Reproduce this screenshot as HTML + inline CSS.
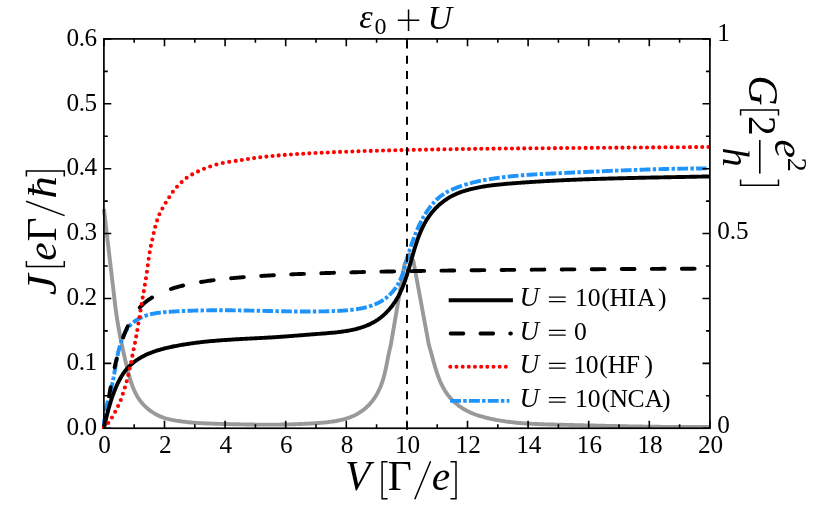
<!DOCTYPE html>
<html><head><meta charset="utf-8"><title>chart</title>
<style>html,body{margin:0;padding:0;background:#fff}body{width:830px;height:511px;overflow:hidden;font-family:"Liberation Serif",serif}svg{display:block;will-change:transform}</style>
</head><body>
<svg width="830" height="511" viewBox="0 0 830 511">
<rect width="830" height="511" fill="#fff"/>
<defs><clipPath id="c"><rect x="101.40" y="36.90" width="611.00" height="391.95"/></clipPath></defs>
<g fill="none" clip-path="url(#c)">
<path d="M103.90,209.10 L114.00,295.00 L114.15,296.47 L114.31,297.92 L114.48,299.37 L114.64,300.81 L114.81,302.24 L114.98,303.67 L115.16,305.09 L115.34,306.50 L115.52,307.90 L115.71,309.30 L115.90,310.69 L116.09,312.08 L116.29,313.46 L116.49,314.84 L116.69,316.21 L116.90,317.57 L117.11,318.93 L117.32,320.29 L117.54,321.64 L117.76,322.99 L117.98,324.33 L118.21,325.67 L118.44,327.01 L118.67,328.35 L118.91,329.68 L119.15,331.01 L119.40,332.34 L119.65,333.66 L119.90,334.99 L120.15,336.31 L120.41,337.64 L120.67,338.96 L120.93,340.28 L121.20,341.60 L121.47,342.92 L121.75,344.24 L122.03,345.57 L122.31,346.89 L122.59,348.21 L122.88,349.54 L123.17,350.87 L123.47,352.20 L123.76,353.53 L124.07,354.86 L124.37,356.20 L124.68,357.53 L124.99,358.88 L125.30,360.22 L125.62,361.57 L125.94,362.92 L126.27,364.28 L126.59,365.64 L126.92,367.01 L127.26,368.38 L127.60,369.75 L127.94,371.13 L128.30,372.51 L128.66,373.88 L129.03,375.26 L129.41,376.63 L129.81,378.00 L130.22,379.37 L130.64,380.73 L131.08,382.09 L131.53,383.44 L132.00,384.78 L132.49,386.11 L133.00,387.43 L133.54,388.73 L134.09,390.03 L134.67,391.31 L135.27,392.58 L135.90,393.82 L136.56,395.05 L137.24,396.26 L137.95,397.44 L138.70,398.60 L139.47,399.73 L140.28,400.84 L141.11,401.92 L141.98,402.97 L142.87,404.00 L143.79,405.00 L144.73,405.97 L145.70,406.91 L146.70,407.82 L147.72,408.70 L148.76,409.56 L149.83,410.38 L150.92,411.18 L152.02,411.94 L153.15,412.68 L154.30,413.38 L155.47,414.05 L156.65,414.69 L157.85,415.30 L159.07,415.87 L160.31,416.42 L161.55,416.93 L162.82,417.41 L164.09,417.85 L165.38,418.26 L166.68,418.64 L167.99,418.99 L169.31,419.32 L170.64,419.62 L171.98,419.90 L173.32,420.16 L174.68,420.41 L176.04,420.63 L177.40,420.85 L178.77,421.05 L180.14,421.25 L181.52,421.43 L182.90,421.61 L184.29,421.78 L185.67,421.93 L187.07,422.08 L188.46,422.22 L189.86,422.36 L191.26,422.48 L192.66,422.60 L194.06,422.71 L195.47,422.82 L196.88,422.91 L198.29,423.01 L199.70,423.09 L201.11,423.17 L202.53,423.25 L203.94,423.32 L205.35,423.39 L206.77,423.45 L208.18,423.51 L209.60,423.56 L211.01,423.61 L212.42,423.66 L213.84,423.71 L215.25,423.75 L216.66,423.79 L218.07,423.83 L219.48,423.87 L220.88,423.90 L222.28,423.94 L223.69,423.97 L225.08,424.00 L226.48,424.04 L227.87,424.07 L229.26,424.10 L230.65,424.14 L232.04,424.17 L233.43,424.20 L234.81,424.23 L236.19,424.26 L237.57,424.29 L238.95,424.32 L240.32,424.35 L241.70,424.37 L243.07,424.40 L244.44,424.42 L245.81,424.45 L247.18,424.47 L248.55,424.49 L249.92,424.51 L251.28,424.53 L252.65,424.55 L254.01,424.57 L255.38,424.58 L256.74,424.60 L258.10,424.61 L259.46,424.62 L260.83,424.63 L262.19,424.64 L263.55,424.65 L264.91,424.65 L266.27,424.65 L267.63,424.66 L269.00,424.65 L270.36,424.65 L271.72,424.65 L273.08,424.64 L274.45,424.63 L275.81,424.62 L277.18,424.61 L278.54,424.59 L279.91,424.58 L281.28,424.56 L282.64,424.53 L284.01,424.51 L285.38,424.48 L286.76,424.45 L288.13,424.42 L289.50,424.39 L290.88,424.35 L292.26,424.31 L293.64,424.27 L295.02,424.22 L296.40,424.17 L297.79,424.12 L299.18,424.07 L300.57,424.01 L301.96,423.95 L303.36,423.89 L304.75,423.82 L306.15,423.75 L307.55,423.68 L308.96,423.60 L310.37,423.52 L311.78,423.44 L313.19,423.35 L314.61,423.26 L316.03,423.17 L317.45,423.07 L318.87,422.97 L320.30,422.86 L321.72,422.74 L323.15,422.62 L324.57,422.49 L326.00,422.34 L327.42,422.19 L328.84,422.03 L330.25,421.85 L331.66,421.66 L333.07,421.45 L334.47,421.23 L335.86,421.00 L337.24,420.74 L338.62,420.47 L339.99,420.18 L341.35,419.87 L342.70,419.54 L344.04,419.19 L345.37,418.81 L346.68,418.41 L347.99,417.99 L349.28,417.54 L350.55,417.07 L351.81,416.56 L353.06,416.03 L354.29,415.47 L355.50,414.88 L356.69,414.26 L357.87,413.61 L359.02,412.92 L360.16,412.21 L361.28,411.45 L362.37,410.67 L363.45,409.85 L364.50,409.01 L365.53,408.13 L366.54,407.22 L367.53,406.29 L368.49,405.33 L369.43,404.34 L370.34,403.33 L371.23,402.29 L372.10,401.23 L372.94,400.15 L373.75,399.04 L374.54,397.91 L375.30,396.76 L376.03,395.59 L376.74,394.41 L377.42,393.20 L378.07,391.98 L378.69,390.74 L379.29,389.49 L379.86,388.22 L380.40,386.94 L380.92,385.64 L381.42,384.33 L381.89,383.02 L382.35,381.69 L382.78,380.35 L383.19,379.00 L383.59,377.65 L383.97,376.29 L384.33,374.92 L384.67,373.55 L385.00,372.17 L385.32,370.79 L385.63,369.40 L385.93,368.02 L386.22,366.63 L386.50,365.24 L386.77,363.86 L387.05,362.47 L387.31,361.09 L387.58,359.71 L387.85,358.34 L388.12,356.97 L388.39,355.60 L388.66,354.25 L388.94,352.90 L389.22,351.56 L389.52,350.22 L389.82,348.90 L390.13,347.59 L390.46,346.29 L390.80,345.00 L404.50,264.60 L409.20,254.20 L413.30,260.70 L428.90,345.00 L429.34,346.46 L429.78,347.95 L430.21,349.45 L430.64,350.97 L431.07,352.50 L431.49,354.05 L431.91,355.61 L432.34,357.18 L432.77,358.76 L433.20,360.35 L433.65,361.94 L434.09,363.54 L434.55,365.14 L435.02,366.74 L435.50,368.33 L436.00,369.93 L436.51,371.52 L437.03,373.11 L437.58,374.68 L438.15,376.25 L438.73,377.81 L439.34,379.36 L439.98,380.89 L440.64,382.41 L441.32,383.90 L442.04,385.39 L442.79,386.85 L443.57,388.28 L444.38,389.70 L445.23,391.09 L446.11,392.45 L447.03,393.78 L448.00,395.09 L449.00,396.36 L450.04,397.60 L451.12,398.80 L452.24,399.98 L453.39,401.12 L454.57,402.23 L455.79,403.30 L457.04,404.34 L458.31,405.34 L459.62,406.31 L460.95,407.24 L462.31,408.14 L463.69,409.00 L465.09,409.82 L466.52,410.61 L467.96,411.35 L469.42,412.06 L470.90,412.73 L472.40,413.36 L473.90,413.96 L475.42,414.53 L476.95,415.06 L478.49,415.56 L480.04,416.04 L481.60,416.49 L483.16,416.93 L484.72,417.34 L486.29,417.74 L487.86,418.12 L489.43,418.48 L491.00,418.83 L492.58,419.17 L494.15,419.49 L495.73,419.80 L497.31,420.09 L498.90,420.37 L500.48,420.64 L502.07,420.90 L503.65,421.14 L505.24,421.37 L506.83,421.59 L508.42,421.80 L510.02,422.00 L511.61,422.18 L513.21,422.36 L514.81,422.53 L516.41,422.69 L518.01,422.84 L519.62,422.98 L521.22,423.11 L522.83,423.23 L524.43,423.35 L526.04,423.46 L527.65,423.56 L529.26,423.66 L530.88,423.75 L532.49,423.83 L534.10,423.91 L535.72,423.99 L537.34,424.05 L538.96,424.12 L540.58,424.18 L542.20,424.24 L543.82,424.29 L545.44,424.34 L547.06,424.39 L548.69,424.43 L550.31,424.48 L551.94,424.52 L553.57,424.56 L555.20,424.60 L556.83,424.64 L558.46,424.68 L560.09,424.72 L561.72,424.76 L563.35,424.80 L564.98,424.84 L566.62,424.88 L568.25,424.92 L569.89,424.96 L571.52,425.00 L573.16,425.04 L574.79,425.09 L576.43,425.13 L578.07,425.17 L579.71,425.21 L581.35,425.25 L582.99,425.29 L584.62,425.33 L586.26,425.37 L587.90,425.41 L589.54,425.45 L591.19,425.49 L592.83,425.53 L594.47,425.57 L596.11,425.61 L597.75,425.65 L599.39,425.69 L601.03,425.73 L602.67,425.77 L604.32,425.80 L605.96,425.84 L607.60,425.88 L609.24,425.92 L610.88,425.95 L612.53,425.99 L614.17,426.03 L615.81,426.06 L617.45,426.10 L619.09,426.13 L620.73,426.17 L622.37,426.20 L624.01,426.24 L625.66,426.27 L627.30,426.30 L628.93,426.33 L630.57,426.37 L632.21,426.40 L633.85,426.43 L635.49,426.46 L637.13,426.49 L638.76,426.52 L640.40,426.54 L642.04,426.57 L643.67,426.60 L645.31,426.62 L646.94,426.65 L648.57,426.67 L650.21,426.70 L651.84,426.72 L653.47,426.74 L655.10,426.76 L656.73,426.78 L658.36,426.80 L659.99,426.82 L661.62,426.84 L663.24,426.86 L664.87,426.87 L666.49,426.89 L668.12,426.90 L669.74,426.92 L671.36,426.93 L672.98,426.94 L674.60,426.95 L676.22,426.96 L677.84,426.97 L679.45,426.98 L681.07,426.98 L682.68,426.99 L684.29,426.99 L685.90,427.00 L687.51,427.00 L689.12,427.00 L690.73,427.00 L692.34,427.00 L693.94,427.00 L695.54,426.99 L697.14,426.99 L698.74,426.98 L700.34,426.97 L701.94,426.96 L703.53,426.95 L705.13,426.94 L706.72,426.93 L708.31,426.92 L709.90,426.90" stroke="#999999" stroke-width="3.9" stroke-linejoin="round" stroke-linecap="butt"/>
<path d="M103.90,428.00 L103.90,427.34 L103.89,426.68 L103.90,426.02 L103.91,425.35 L103.93,424.69 L103.96,424.03 L103.99,423.37 L104.03,422.71 L104.08,422.05 L104.13,421.39 L104.18,420.73 L104.25,420.07 L104.31,419.42 L104.35,419.04 M104.64,416.79 L104.67,416.51 L104.72,416.23 L104.76,415.95 L104.80,415.67 L104.84,415.39 L104.88,415.11 L104.93,414.83 L104.97,414.55 L105.02,414.27 L105.07,413.99 L105.11,413.71 L105.16,413.43 M105.59,411.11 L105.75,410.27 L105.93,409.44 L106.10,408.61 L106.28,407.77 L106.47,406.94 L106.66,406.12 L106.85,405.29 L107.04,404.46 L107.24,403.63 L107.45,402.81 L107.65,401.98 L107.86,401.16 L108.00,400.61 M108.59,398.32 L108.66,398.04 L108.73,397.77 L108.80,397.50 L108.87,397.22 L108.94,396.95 L109.02,396.67 L109.09,396.40 L109.16,396.12 L109.23,395.85 L109.30,395.58 L109.38,395.30 L109.45,395.03 M110.02,392.83 L110.23,392.01 L110.44,391.19 L110.66,390.36 L110.86,389.54 L111.07,388.71 L111.27,387.89 L111.48,387.06 L111.67,386.23 L111.87,385.41 L112.06,384.58 L112.25,383.75 L112.43,382.92 L112.57,382.27 M113.03,380.05 L113.09,379.77 L113.15,379.49 L113.20,379.22 L113.26,378.94 L113.31,378.66 L113.36,378.38 L113.42,378.10 L113.47,377.83 L113.53,377.55 L113.58,377.27 L113.63,376.99 L113.68,376.71 M114.11,374.39 L114.27,373.55 L114.41,372.71 L114.56,371.88 L114.71,371.04 L114.86,370.20 L115.00,369.36 L115.15,368.53 L115.29,367.69 L115.44,366.85 L115.58,366.01 L115.73,365.17 L115.88,364.34 L115.98,363.78 M116.38,361.55 L116.43,361.27 L116.48,360.99 L116.53,360.71 L116.58,360.43 L116.64,360.15 L116.69,359.87 L116.74,359.59 L116.79,359.32 L116.85,359.04 L116.90,358.76 L116.95,358.48 L117.01,358.20 M117.47,355.89 L117.65,355.05 L117.83,354.22 L118.01,353.39 L118.19,352.56 L118.38,351.73 L118.58,350.90 L118.78,350.08 L118.99,349.25 L119.20,348.43 L119.41,347.61 L119.64,346.79 L119.87,345.97 L120.03,345.42 M120.71,343.16 L120.80,342.89 L120.88,342.62 L120.97,342.35 L121.06,342.08 L121.15,341.81 L121.24,341.54 L121.33,341.28 L121.42,341.01 L121.52,340.74 L121.61,340.47 L121.70,340.21 L121.80,339.94 M122.64,337.73 L122.96,336.95 L123.30,336.16 L123.64,335.39 L124.00,334.62 L124.38,333.85 L124.76,333.09 L125.16,332.34 L125.58,331.60 L126.01,330.87 L126.45,330.14 L126.92,329.43 L127.39,328.73 L127.72,328.26 M129.12,326.48 L129.30,326.26 L129.48,326.04 L129.67,325.83 L129.86,325.62 L130.05,325.41 L130.24,325.20 L130.44,325.00 L130.64,324.79 L130.84,324.59 L131.03,324.39 L131.23,324.19 L131.44,324.00 M133.22,322.44 L133.89,321.91 L134.57,321.41 L135.26,320.91 L135.97,320.44 L136.69,319.98 L137.41,319.54 L138.15,319.11 L138.89,318.70 L139.64,318.30 L140.40,317.92 L141.17,317.56 L141.94,317.20 L142.46,316.98 M144.57,316.13 L144.83,316.03 L145.10,315.93 L145.36,315.83 L145.63,315.74 L145.90,315.65 L146.17,315.56 L146.44,315.46 L146.71,315.37 L146.98,315.29 L147.25,315.20 L147.52,315.12 L147.79,315.03 L147.88,315.01 M150.06,314.40 L150.89,314.19 L151.72,314.00 L152.55,313.81 L153.38,313.64 L154.21,313.48 L155.05,313.33 L155.89,313.19 L156.73,313.05 L157.57,312.93 L158.41,312.81 L159.26,312.70 L160.10,312.60 L160.85,312.51 M163.11,312.29 L163.39,312.26 L163.67,312.23 L163.96,312.21 L164.24,312.19 L164.52,312.16 L164.80,312.14 L165.09,312.11 L165.37,312.09 L165.65,312.07 L165.93,312.05 L166.22,312.02 L166.50,312.00 M168.76,311.84 L169.61,311.78 L170.46,311.73 L171.31,311.67 L172.16,311.62 L173.00,311.56 L173.85,311.51 L174.70,311.46 L175.55,311.41 L176.40,311.36 L177.25,311.32 L178.10,311.27 L178.95,311.23 L179.51,311.20 M181.78,311.09 L182.06,311.08 L182.35,311.06 L182.63,311.05 L182.91,311.04 L183.20,311.02 L183.48,311.01 L183.76,311.00 L184.05,310.99 L184.33,310.97 L184.61,310.96 L184.89,310.95 L185.18,310.94 M187.54,310.84 L188.39,310.81 L189.24,310.78 L190.09,310.75 L190.94,310.72 L191.79,310.69 L192.64,310.67 L193.49,310.64 L194.34,310.62 L195.19,310.59 L196.04,310.57 L196.89,310.55 L197.74,310.52 L198.31,310.51 M200.57,310.46 L200.76,310.46 L200.95,310.45 L201.14,310.45 L201.33,310.44 L201.52,310.44 L201.71,310.44 L201.90,310.43 L202.09,310.43 L202.27,310.43 L202.46,310.42 L202.65,310.42 L202.84,310.41 L203.03,310.41 L203.22,310.41 L203.41,310.40 L203.60,310.40 L203.79,310.40 L203.88,310.40 M206.24,310.36 L207.09,310.35 L207.94,310.34 L208.79,310.33 L209.64,310.32 L210.49,310.31 L211.35,310.30 L212.20,310.29 L213.05,310.29 L213.90,310.28 L214.75,310.28 L215.60,310.27 L216.45,310.27 L217.02,310.27 M219.28,310.26 L219.57,310.26 L219.85,310.26 L220.13,310.26 L220.42,310.26 L220.70,310.26 L220.98,310.26 L221.27,310.26 L221.55,310.26 L221.83,310.26 L222.12,310.26 L222.40,310.26 L222.69,310.27 M224.95,310.27 L225.80,310.28 L226.65,310.28 L227.50,310.29 L228.35,310.29 L229.21,310.30 L230.06,310.31 L230.91,310.31 L231.76,310.32 L232.61,310.33 L233.46,310.34 L234.31,310.35 L235.16,310.36 L235.73,310.36 M237.99,310.39 L238.28,310.40 L238.56,310.40 L238.84,310.41 L239.13,310.41 L239.41,310.41 L239.69,310.42 L239.98,310.42 L240.26,310.43 L240.54,310.43 L240.83,310.44 L241.11,310.44 L241.39,310.45 M243.66,310.48 L244.51,310.50 L245.36,310.51 L246.21,310.53 L247.06,310.54 L247.91,310.56 L248.76,310.57 L249.61,310.59 L250.47,310.61 L251.32,310.62 L252.17,310.64 L253.02,310.66 L253.87,310.68 L254.43,310.69 M256.70,310.74 L256.98,310.74 L257.27,310.75 L257.55,310.75 L257.83,310.76 L258.12,310.77 L258.40,310.77 L258.68,310.78 L258.97,310.78 L259.25,310.79 L259.54,310.80 L259.82,310.80 L260.10,310.81 M262.37,310.86 L263.22,310.88 L264.07,310.89 L264.92,310.91 L265.77,310.93 L266.62,310.95 L267.47,310.97 L268.32,310.99 L269.17,311.01 L270.02,311.02 L270.87,311.04 L271.72,311.06 L272.57,311.08 L273.14,311.09 M275.41,311.14 L275.69,311.14 L275.97,311.15 L276.26,311.15 L276.54,311.16 L276.82,311.16 L277.11,311.17 L277.39,311.18 L277.67,311.18 L277.96,311.19 L278.24,311.19 L278.53,311.20 L278.81,311.20 M281.17,311.25 L282.02,311.26 L282.87,311.28 L283.72,311.29 L284.57,311.31 L285.42,311.32 L286.27,311.34 L287.12,311.35 L287.97,311.36 L288.82,311.38 L289.67,311.39 L290.52,311.40 L291.38,311.41 L291.85,311.42 M294.12,311.44 L294.40,311.45 L294.68,311.45 L294.97,311.45 L295.25,311.46 L295.53,311.46 L295.82,311.46 L296.10,311.46 L296.38,311.47 L296.67,311.47 L296.95,311.47 L297.23,311.48 L297.52,311.48 M299.88,311.50 L300.73,311.50 L301.58,311.51 L302.43,311.51 L303.28,311.51 L304.13,311.52 L304.98,311.52 L305.83,311.52 L306.68,311.52 L307.53,311.52 L308.38,311.52 L309.23,311.52 L310.09,311.52 L310.56,311.51 M312.83,311.50 L313.11,311.50 L313.39,311.50 L313.68,311.50 L313.96,311.50 L314.24,311.49 L314.53,311.49 L314.81,311.49 L315.09,311.49 L315.38,311.48 L315.66,311.48 L315.94,311.48 L316.23,311.48 M318.59,311.45 L319.44,311.44 L320.29,311.42 L321.14,311.41 L321.99,311.40 L322.84,311.38 L323.69,311.36 L324.54,311.35 L325.39,311.33 L326.24,311.31 L327.09,311.29 L327.94,311.26 L328.79,311.24 L329.27,311.23 M331.63,311.16 L331.82,311.15 L332.01,311.15 L332.19,311.14 L332.38,311.13 L332.57,311.13 L332.76,311.12 L332.95,311.11 L333.14,311.11 L333.33,311.10 L333.52,311.09 L333.70,311.09 L333.89,311.08 L334.08,311.07 L334.27,311.06 L334.46,311.06 L334.65,311.05 L334.84,311.04 L334.93,311.04 M337.29,310.94 L338.14,310.90 L338.99,310.85 L339.84,310.81 L340.69,310.76 L341.54,310.71 L342.39,310.65 L343.24,310.59 L344.08,310.53 L344.93,310.47 L345.78,310.40 L346.63,310.33 L347.47,310.25 L348.04,310.20 M350.30,309.97 L350.58,309.94 L350.86,309.91 L351.14,309.87 L351.42,309.84 L351.70,309.81 L351.99,309.78 L352.27,309.74 L352.55,309.71 L352.83,309.67 L353.11,309.64 L353.39,309.60 L353.67,309.57 M356.01,309.24 L356.85,309.11 L357.69,308.98 L358.53,308.84 L359.37,308.70 L360.21,308.54 L361.04,308.38 L361.88,308.22 L362.71,308.04 L363.54,307.86 L364.37,307.67 L365.20,307.48 L366.02,307.27 L366.75,307.08 M369.03,306.44 L369.30,306.35 L369.57,306.27 L369.84,306.19 L370.11,306.10 L370.38,306.02 L370.65,305.93 L370.92,305.84 L371.19,305.75 L371.46,305.66 L371.72,305.56 L371.99,305.47 L372.26,305.38 L372.35,305.34 M374.47,304.54 L375.25,304.21 L376.04,303.88 L376.81,303.53 L377.58,303.17 L378.35,302.80 L379.10,302.41 L379.85,302.01 L380.60,301.60 L381.34,301.17 L382.06,300.73 L382.78,300.28 L383.49,299.82 M385.27,298.56 L385.42,298.45 L385.57,298.33 L385.72,298.22 L385.87,298.11 L386.02,297.99 L386.17,297.87 L386.32,297.75 L386.46,297.64 L386.61,297.52 L386.76,297.40 L386.91,297.28 L387.05,297.16 L387.19,297.04 L387.34,296.91 L387.48,296.79 L387.63,296.67 L387.77,296.55 M389.38,295.08 L389.99,294.49 L390.59,293.89 L391.18,293.27 L391.75,292.65 L392.32,292.02 L392.88,291.37 L393.42,290.72 L393.96,290.06 L394.48,289.39 L394.99,288.71 L395.49,288.02 L395.98,287.33 L396.03,287.25 M397.22,285.43 L397.33,285.27 L397.43,285.11 L397.53,284.95 L397.62,284.79 L397.72,284.62 L397.82,284.46 L397.91,284.30 L398.01,284.14 L398.10,283.97 L398.20,283.81 L398.29,283.65 L398.38,283.48 L398.48,283.32 L398.57,283.15 L398.66,282.99 L398.75,282.82 L398.84,282.65 M399.83,280.72 L400.20,279.95 L400.55,279.18 L400.89,278.40 L401.22,277.61 L401.54,276.82 L401.84,276.03 L402.14,275.23 L402.43,274.43 L402.70,273.63 L402.97,272.82 L403.23,272.01 L403.49,271.20 M404.11,269.12 L404.17,268.94 L404.22,268.76 L404.27,268.58 L404.32,268.39 L404.38,268.21 L404.43,268.03 L404.48,267.85 L404.53,267.67 L404.58,267.48 L404.63,267.30 L404.68,267.12 L404.73,266.94 L404.78,266.76 L404.83,266.57 L404.88,266.39 L404.93,266.21 L404.98,266.03 L405.01,265.94 M405.58,263.84 L405.80,263.02 L406.02,262.20 L406.24,261.37 L406.46,260.55 L406.69,259.73 L406.91,258.91 L407.14,258.09 L407.38,257.28 L407.61,256.46 L407.85,255.64 L408.10,254.83 L408.34,254.02 M408.99,251.94 L409.05,251.76 L409.10,251.58 L409.16,251.40 L409.22,251.22 L409.28,251.04 L409.33,250.86 L409.39,250.68 L409.45,250.50 L409.51,250.32 L409.57,250.14 L409.62,249.96 L409.68,249.78 L409.74,249.60 L409.80,249.42 L409.86,249.24 L409.92,249.06 L409.98,248.88 M410.70,246.73 L410.98,245.93 L411.25,245.13 L411.53,244.32 L411.82,243.52 L412.10,242.72 L412.39,241.92 L412.68,241.12 L412.98,240.32 L413.27,239.52 L413.57,238.73 L413.87,237.93 L414.17,237.14 M414.96,235.11 L415.03,234.93 L415.10,234.76 L415.17,234.58 L415.24,234.41 L415.31,234.23 L415.38,234.06 L415.45,233.88 L415.52,233.71 L415.59,233.53 L415.66,233.36 L415.73,233.18 L415.80,233.00 L415.87,232.83 L415.94,232.65 L416.01,232.48 L416.09,232.30 L416.16,232.13 M417.04,230.04 L417.37,229.26 L417.71,228.48 L418.06,227.70 L418.41,226.93 L418.76,226.15 L419.12,225.38 L419.49,224.61 L419.86,223.85 L420.23,223.08 L420.61,222.32 L421.00,221.56 L421.39,220.81 M422.41,218.89 L422.50,218.73 L422.59,218.56 L422.68,218.40 L422.78,218.23 L422.87,218.07 L422.96,217.90 L423.05,217.74 L423.15,217.57 L423.24,217.41 L423.33,217.24 L423.43,217.08 L423.52,216.91 L423.61,216.75 L423.71,216.59 L423.81,216.42 L423.90,216.26 L424.00,216.10 M425.12,214.24 L425.57,213.52 L426.03,212.80 L426.49,212.09 L426.96,211.38 L427.44,210.67 L427.92,209.98 L428.41,209.28 L428.91,208.59 L429.42,207.91 L429.93,207.23 L430.45,206.56 L430.98,205.89 L431.04,205.82 M432.43,204.14 L432.55,204.00 L432.67,203.86 L432.80,203.71 L432.92,203.57 L433.04,203.43 L433.17,203.29 L433.30,203.15 L433.42,203.01 L433.55,202.87 L433.68,202.73 L433.80,202.59 L433.93,202.45 L434.06,202.31 L434.19,202.17 L434.32,202.03 L434.45,201.89 L434.58,201.76 M436.10,200.21 L436.71,199.61 L437.33,199.03 L437.96,198.46 L438.60,197.90 L439.24,197.34 L439.90,196.81 L440.57,196.28 L441.24,195.76 L441.93,195.25 L442.62,194.76 L443.32,194.28 L444.03,193.82 M445.89,192.68 L446.13,192.54 L446.38,192.40 L446.62,192.26 L446.87,192.12 L447.12,191.99 L447.37,191.85 L447.62,191.72 L447.87,191.58 L448.12,191.45 L448.37,191.32 L448.63,191.19 L448.88,191.06 M451.18,189.96 L452.04,189.57 L452.90,189.19 L453.77,188.82 L454.65,188.46 L455.52,188.10 L456.40,187.76 L457.28,187.41 L458.17,187.08 L459.05,186.76 L459.94,186.44 L460.84,186.12 L461.73,185.82 L462.00,185.73 M464.33,184.96 L464.60,184.88 L464.87,184.79 L465.15,184.71 L465.42,184.63 L465.69,184.54 L465.96,184.46 L466.23,184.38 L466.50,184.30 L466.77,184.22 L467.05,184.14 L467.32,184.06 L467.59,183.98 L467.77,183.92 M470.05,183.29 L470.87,183.07 L471.69,182.85 L472.51,182.64 L473.34,182.43 L474.16,182.23 L474.99,182.03 L475.82,181.83 L476.65,181.64 L477.48,181.45 L478.31,181.27 L479.14,181.09 L479.97,180.91 L480.80,180.74 L480.90,180.72 M483.12,180.28 L483.40,180.23 L483.68,180.17 L483.96,180.12 L484.23,180.07 L484.51,180.01 L484.79,179.96 L485.07,179.91 L485.35,179.86 L485.63,179.81 L485.91,179.76 L486.19,179.71 L486.46,179.66 L486.56,179.64 M488.89,179.24 L489.72,179.10 L490.56,178.97 L491.40,178.83 L492.24,178.70 L493.09,178.57 L493.93,178.45 L494.77,178.32 L495.61,178.20 L496.45,178.08 L497.29,177.96 L498.14,177.85 L498.98,177.73 L499.73,177.63 M501.98,177.35 L502.26,177.31 L502.54,177.28 L502.82,177.24 L503.10,177.21 L503.39,177.17 L503.67,177.14 L503.95,177.11 L504.23,177.07 L504.51,177.04 L504.79,177.00 L505.07,176.97 L505.36,176.94 L505.45,176.93 M507.70,176.67 L508.55,176.58 L509.39,176.49 L510.24,176.40 L511.09,176.31 L511.93,176.23 L512.78,176.14 L513.62,176.06 L514.47,175.98 L515.32,175.90 L516.17,175.82 L517.01,175.75 L517.86,175.67 L518.52,175.61 M520.87,175.41 L521.16,175.39 L521.44,175.37 L521.72,175.34 L522.00,175.32 L522.29,175.30 L522.57,175.28 L522.85,175.25 L523.13,175.23 L523.42,175.21 L523.70,175.19 L523.98,175.17 L524.26,175.15 M526.62,174.97 L527.47,174.91 L528.32,174.85 L529.16,174.79 L530.01,174.73 L530.86,174.68 L531.71,174.62 L532.56,174.56 L533.41,174.51 L534.26,174.46 L535.11,174.41 L535.95,174.35 L536.80,174.30 L537.37,174.27 M539.73,174.14 L540.01,174.12 L540.29,174.10 L540.58,174.09 L540.86,174.07 L541.14,174.06 L541.43,174.04 L541.71,174.03 L541.99,174.01 L542.28,174.00 L542.56,173.98 L542.84,173.97 L543.13,173.95 M545.39,173.83 L546.24,173.79 L547.09,173.75 L547.94,173.71 L548.79,173.66 L549.64,173.62 L550.49,173.58 L551.34,173.54 L552.19,173.50 L553.04,173.46 L553.89,173.42 L554.73,173.38 L555.58,173.34 L556.24,173.31 M558.51,173.21 L558.79,173.19 L559.08,173.18 L559.36,173.17 L559.64,173.15 L559.93,173.14 L560.21,173.13 L560.49,173.11 L560.78,173.10 L561.06,173.09 L561.34,173.08 L561.63,173.06 L561.91,173.05 M564.27,172.94 L565.12,172.90 L565.97,172.86 L566.82,172.83 L567.67,172.79 L568.52,172.75 L569.37,172.71 L570.22,172.67 L571.07,172.63 L571.92,172.59 L572.76,172.55 L573.61,172.51 L574.46,172.48 L575.03,172.45 M577.39,172.34 L577.67,172.33 L577.96,172.32 L578.24,172.30 L578.52,172.29 L578.81,172.28 L579.09,172.27 L579.37,172.25 L579.66,172.24 L579.94,172.23 L580.22,172.21 L580.51,172.20 L580.79,172.19 M583.15,172.08 L584.00,172.04 L584.85,172.00 L585.70,171.97 L586.55,171.93 L587.40,171.89 L588.25,171.85 L589.10,171.81 L589.95,171.78 L590.80,171.74 L591.65,171.70 L592.50,171.66 L593.34,171.62 L593.91,171.60 M596.18,171.50 L596.46,171.49 L596.74,171.48 L597.03,171.46 L597.31,171.45 L597.59,171.44 L597.88,171.43 L598.16,171.41 L598.44,171.40 L598.73,171.39 L599.01,171.38 L599.29,171.36 L599.58,171.35 M601.94,171.25 L602.79,171.21 L603.64,171.18 L604.48,171.14 L605.33,171.10 L606.18,171.07 L607.03,171.03 L607.88,171.00 L608.73,170.96 L609.58,170.92 L610.43,170.89 L611.28,170.85 L612.13,170.82 L612.79,170.79 M615.06,170.70 L615.34,170.69 L615.63,170.68 L615.91,170.66 L616.19,170.65 L616.48,170.64 L616.76,170.63 L617.04,170.62 L617.33,170.61 L617.61,170.59 L617.89,170.58 L618.18,170.57 L618.46,170.56 M620.82,170.47 L621.67,170.43 L622.52,170.40 L623.37,170.37 L624.22,170.33 L625.07,170.30 L625.92,170.27 L626.77,170.24 L627.62,170.20 L628.47,170.17 L629.32,170.14 L630.17,170.11 L631.02,170.08 L631.58,170.06 M633.85,169.97 L634.13,169.96 L634.42,169.95 L634.70,169.94 L634.98,169.93 L635.27,169.92 L635.55,169.91 L635.83,169.90 L636.12,169.89 L636.40,169.88 L636.68,169.87 L636.97,169.86 L637.25,169.85 M639.61,169.77 L640.46,169.74 L641.31,169.71 L642.16,169.68 L643.01,169.66 L643.86,169.63 L644.71,169.60 L645.56,169.57 L646.41,169.55 L647.26,169.52 L648.11,169.49 L648.96,169.46 L649.81,169.44 L650.47,169.42 M652.74,169.35 L653.02,169.34 L653.31,169.33 L653.59,169.32 L653.87,169.32 L654.16,169.31 L654.44,169.30 L654.72,169.29 L655.01,169.28 L655.29,169.27 L655.57,169.27 L655.86,169.26 L656.14,169.25 M658.50,169.18 L659.35,169.16 L660.20,169.14 L661.05,169.11 L661.90,169.09 L662.75,169.07 L663.60,169.05 L664.45,169.03 L665.30,169.01 L666.15,168.98 L667.00,168.96 L667.85,168.94 L668.70,168.92 L669.27,168.91 M671.54,168.86 L671.82,168.85 L672.11,168.85 L672.39,168.84 L672.67,168.84 L672.96,168.83 L673.24,168.82 L673.52,168.82 L673.81,168.81 L674.09,168.81 L674.37,168.80 L674.66,168.79 L674.94,168.79 M677.30,168.74 L678.15,168.72 L679.00,168.71 L679.85,168.69 L680.70,168.68 L681.55,168.66 L682.40,168.65 L683.25,168.63 L684.11,168.62 L684.96,168.61 L685.81,168.59 L686.66,168.58 L687.51,168.57 L688.07,168.56 M690.44,168.53 L690.72,168.53 L691.00,168.52 L691.29,168.52 L691.57,168.52 L691.85,168.51 L692.14,168.51 L692.42,168.51 L692.70,168.50 L692.99,168.50 L693.27,168.50 L693.55,168.49 L693.84,168.49 M696.11,168.47 L696.96,168.46 L697.81,168.45 L698.66,168.44 L699.51,168.44 L700.36,168.43 L701.21,168.43 L702.06,168.42 L702.91,168.42 L703.76,168.41 L704.61,168.41 L705.46,168.40 L706.31,168.40 L706.50,168.40" stroke="#1e94fb" stroke-width="3.9" stroke-linejoin="round"/>
<path d="M103.90,428.00 L104.17,426.84 L104.44,425.68 L104.72,424.51 L104.99,423.35 L105.27,422.18 L105.54,421.01 L105.82,419.84 L106.10,418.67 L106.39,417.50 L106.67,416.32 L106.97,415.15 L107.26,413.97 L107.56,412.79 L107.87,411.61 L108.18,410.44 L108.49,409.26 L108.81,408.08 L109.14,406.90 L109.48,405.72 L109.82,404.54 L110.17,403.37 L110.53,402.19 L110.89,401.01 L111.27,399.83 L111.65,398.66 L112.04,397.48 L112.45,396.31 L112.86,395.14 L113.29,393.97 L113.72,392.80 L114.17,391.63 L114.63,390.47 L115.10,389.30 L115.59,388.14 L116.08,386.98 L116.59,385.83 L117.12,384.67 L117.66,383.53 L118.21,382.39 L118.78,381.26 L119.36,380.14 L119.96,379.03 L120.58,377.93 L121.21,376.84 L121.86,375.78 L122.53,374.72 L123.22,373.69 L123.92,372.67 L124.64,371.68 L125.38,370.71 L126.14,369.76 L126.92,368.83 L127.72,367.93 L128.54,367.05 L129.37,366.20 L130.23,365.37 L131.10,364.56 L131.99,363.77 L132.89,363.01 L133.81,362.27 L134.75,361.54 L135.70,360.84 L136.67,360.16 L137.65,359.50 L138.65,358.85 L139.66,358.23 L140.68,357.62 L141.72,357.03 L142.77,356.46 L143.83,355.91 L144.90,355.37 L145.99,354.85 L147.08,354.35 L148.18,353.86 L149.30,353.39 L150.42,352.93 L151.55,352.49 L152.70,352.06 L153.84,351.65 L155.00,351.24 L156.17,350.85 L157.34,350.48 L158.51,350.11 L159.70,349.76 L160.89,349.42 L162.08,349.08 L163.28,348.76 L164.48,348.45 L165.69,348.15 L166.90,347.86 L168.11,347.58 L169.33,347.30 L170.55,347.04 L171.77,346.78 L172.99,346.53 L174.21,346.28 L175.43,346.04 L176.65,345.81 L177.87,345.58 L179.10,345.36 L180.32,345.15 L181.53,344.93 L182.75,344.73 L183.97,344.53 L185.19,344.33 L186.40,344.14 L187.62,343.95 L188.84,343.77 L190.05,343.59 L191.26,343.42 L192.48,343.25 L193.69,343.08 L194.90,342.92 L196.12,342.77 L197.33,342.62 L198.54,342.47 L199.75,342.32 L200.96,342.18 L202.17,342.04 L203.38,341.91 L204.58,341.78 L205.79,341.65 L207.00,341.53 L208.21,341.41 L209.42,341.29 L210.62,341.18 L211.83,341.06 L213.03,340.96 L214.24,340.85 L215.45,340.75 L216.65,340.65 L217.86,340.55 L219.06,340.45 L220.27,340.36 L221.47,340.27 L222.68,340.18 L223.88,340.09 L225.09,340.01 L226.29,339.93 L227.50,339.85 L228.70,339.77 L229.90,339.69 L231.11,339.61 L232.31,339.54 L233.52,339.47 L234.72,339.39 L235.93,339.32 L237.13,339.25 L238.34,339.19 L239.54,339.12 L240.75,339.05 L241.95,338.99 L243.16,338.92 L244.36,338.86 L245.57,338.79 L246.77,338.73 L247.98,338.67 L249.19,338.61 L250.39,338.54 L251.60,338.48 L252.81,338.42 L254.02,338.36 L255.23,338.29 L256.43,338.23 L257.64,338.17 L258.85,338.10 L260.06,338.04 L261.27,337.97 L262.48,337.91 L263.70,337.84 L264.91,337.78 L266.12,337.71 L267.33,337.64 L268.55,337.57 L269.76,337.50 L270.98,337.43 L272.19,337.35 L273.41,337.28 L274.62,337.20 L275.84,337.12 L277.06,337.04 L278.28,336.96 L279.50,336.88 L280.72,336.79 L281.94,336.70 L283.16,336.62 L284.38,336.53 L285.61,336.44 L286.83,336.35 L288.06,336.25 L289.28,336.16 L290.51,336.07 L291.74,335.97 L292.97,335.88 L294.20,335.78 L295.43,335.68 L296.66,335.58 L297.89,335.49 L299.13,335.39 L300.36,335.29 L301.60,335.19 L302.83,335.09 L304.07,334.99 L305.31,334.89 L306.55,334.79 L307.79,334.69 L309.04,334.59 L310.28,334.49 L311.53,334.40 L312.77,334.30 L314.02,334.20 L315.27,334.10 L316.52,334.01 L317.77,333.91 L319.02,333.82 L320.28,333.72 L321.53,333.63 L322.79,333.53 L324.04,333.44 L325.30,333.34 L326.55,333.24 L327.81,333.14 L329.06,333.03 L330.32,332.92 L331.57,332.81 L332.82,332.70 L334.07,332.58 L335.32,332.45 L336.56,332.32 L337.80,332.18 L339.04,332.03 L340.28,331.88 L341.51,331.72 L342.74,331.55 L343.96,331.38 L345.18,331.19 L346.40,331.00 L347.61,330.79 L348.82,330.58 L350.02,330.35 L351.21,330.12 L352.40,329.87 L353.59,329.61 L354.76,329.33 L355.93,329.04 L357.10,328.74 L358.26,328.43 L359.41,328.10 L360.55,327.75 L361.68,327.39 L362.81,327.01 L363.93,326.62 L365.03,326.21 L366.13,325.78 L367.22,325.34 L368.31,324.87 L369.38,324.39 L370.44,323.89 L371.49,323.37 L372.53,322.82 L373.56,322.26 L374.58,321.68 L375.59,321.07 L376.58,320.44 L377.57,319.79 L378.54,319.12 L379.50,318.42 L380.45,317.71 L381.38,316.97 L382.30,316.21 L383.21,315.44 L384.10,314.64 L384.98,313.82 L385.85,312.99 L386.70,312.14 L387.54,311.27 L388.37,310.38 L389.18,309.48 L389.97,308.56 L390.75,307.62 L391.51,306.67 L392.26,305.71 L393.00,304.73 L393.71,303.73 L394.41,302.73 L395.09,301.71 L395.76,300.68 L396.41,299.63 L397.04,298.58 L397.66,297.51 L398.26,296.44 L398.84,295.35 L399.40,294.25 L399.95,293.15 L400.48,292.03 L400.99,290.91 L401.49,289.78 L401.98,288.65 L402.46,287.50 L402.92,286.35 L403.37,285.20 L403.82,284.04 L404.25,282.87 L404.67,281.70 L405.08,280.53 L405.49,279.35 L405.88,278.17 L406.27,276.99 L406.66,275.80 L407.03,274.61 L407.41,273.42 L407.77,272.23 L408.13,271.03 L408.49,269.84 L408.85,268.64 L409.20,267.44 L409.54,266.25 L409.89,265.05 L410.23,263.85 L410.57,262.65 L410.91,261.45 L411.25,260.25 L411.59,259.06 L411.93,257.86 L412.27,256.67 L412.61,255.47 L412.95,254.28 L413.30,253.09 L413.64,251.90 L413.99,250.72 L414.35,249.54 L414.70,248.36 L415.07,247.18 L415.43,246.01 L415.80,244.84 L416.18,243.68 L416.57,242.52 L416.96,241.36 L417.35,240.21 L417.76,239.07 L418.17,237.93 L418.59,236.79 L419.03,235.66 L419.47,234.54 L419.92,233.42 L420.38,232.31 L420.85,231.21 L421.33,230.11 L421.82,229.02 L422.33,227.93 L422.85,226.86 L423.38,225.79 L423.93,224.73 L424.49,223.68 L425.06,222.64 L425.65,221.61 L426.25,220.58 L426.87,219.57 L427.51,218.56 L428.16,217.57 L428.83,216.58 L429.52,215.61 L430.23,214.65 L430.95,213.69 L431.69,212.75 L432.46,211.82 L433.24,210.90 L434.04,209.99 L434.86,209.10 L435.71,208.22 L436.56,207.35 L437.44,206.49 L438.34,205.66 L439.25,204.83 L440.18,204.02 L441.12,203.23 L442.08,202.46 L443.05,201.70 L444.04,200.96 L445.05,200.24 L446.06,199.53 L447.09,198.85 L448.13,198.19 L449.18,197.55 L450.25,196.93 L451.32,196.33 L452.41,195.75 L453.50,195.19 L454.61,194.66 L455.72,194.15 L456.84,193.66 L457.97,193.20 L459.11,192.75 L460.25,192.32 L461.41,191.91 L462.56,191.52 L463.72,191.14 L464.89,190.77 L466.06,190.43 L467.23,190.09 L468.41,189.77 L469.59,189.45 L470.78,189.15 L471.96,188.86 L473.15,188.58 L474.34,188.31 L475.54,188.05 L476.73,187.80 L477.93,187.55 L479.13,187.32 L480.33,187.09 L481.53,186.88 L482.74,186.67 L483.95,186.47 L485.16,186.28 L486.37,186.09 L487.58,185.91 L488.79,185.74 L490.01,185.57 L491.22,185.41 L492.44,185.26 L493.66,185.11 L494.88,184.97 L496.10,184.83 L497.32,184.70 L498.54,184.57 L499.76,184.45 L500.99,184.33 L502.21,184.21 L503.44,184.10 L504.66,183.99 L505.89,183.88 L507.11,183.78 L508.34,183.67 L509.56,183.57 L510.79,183.48 L512.01,183.38 L513.24,183.28 L514.47,183.19 L515.69,183.10 L516.92,183.00 L518.14,182.91 L519.37,182.82 L520.59,182.74 L521.81,182.65 L523.04,182.56 L524.26,182.47 L525.49,182.39 L526.71,182.31 L527.93,182.22 L529.16,182.14 L530.38,182.06 L531.60,181.98 L532.82,181.90 L534.05,181.83 L535.27,181.75 L536.49,181.67 L537.71,181.60 L538.94,181.52 L540.16,181.45 L541.38,181.38 L542.60,181.31 L543.82,181.24 L545.04,181.17 L546.27,181.10 L547.49,181.03 L548.71,180.97 L549.93,180.90 L551.15,180.83 L552.37,180.77 L553.59,180.71 L554.81,180.64 L556.03,180.58 L557.25,180.52 L558.47,180.46 L559.69,180.40 L560.91,180.34 L562.13,180.29 L563.35,180.23 L564.57,180.17 L565.79,180.12 L567.01,180.06 L568.23,180.01 L569.45,179.95 L570.67,179.90 L571.89,179.85 L573.11,179.80 L574.33,179.75 L575.55,179.70 L576.77,179.65 L577.99,179.60 L579.20,179.55 L580.42,179.50 L581.64,179.46 L582.86,179.41 L584.08,179.37 L585.30,179.32 L586.52,179.28 L587.74,179.23 L588.95,179.19 L590.17,179.15 L591.39,179.11 L592.61,179.07 L593.83,179.02 L595.05,178.98 L596.27,178.94 L597.48,178.91 L598.70,178.87 L599.92,178.83 L601.14,178.79 L602.36,178.75 L603.58,178.72 L604.80,178.68 L606.01,178.65 L607.23,178.61 L608.45,178.57 L609.67,178.54 L610.89,178.51 L612.11,178.47 L613.33,178.44 L614.54,178.41 L615.76,178.37 L616.98,178.34 L618.20,178.31 L619.42,178.28 L620.64,178.25 L621.86,178.22 L623.08,178.19 L624.29,178.16 L625.51,178.13 L626.73,178.10 L627.95,178.07 L629.17,178.04 L630.39,178.01 L631.61,177.99 L632.83,177.96 L634.05,177.93 L635.27,177.90 L636.49,177.88 L637.71,177.85 L638.93,177.82 L640.15,177.80 L641.37,177.77 L642.59,177.75 L643.81,177.72 L645.03,177.70 L646.25,177.67 L647.47,177.64 L648.69,177.62 L649.91,177.60 L651.13,177.57 L652.35,177.55 L653.57,177.52 L654.79,177.50 L656.01,177.47 L657.23,177.45 L658.46,177.43 L659.68,177.40 L660.90,177.38 L662.12,177.35 L663.34,177.33 L664.56,177.31 L665.79,177.28 L667.01,177.26 L668.23,177.24 L669.45,177.21 L670.68,177.19 L671.90,177.17 L673.12,177.14 L674.35,177.12 L675.57,177.10 L676.79,177.07 L678.02,177.05 L679.24,177.03 L680.46,177.00 L681.69,176.98 L682.91,176.96 L684.14,176.93 L685.36,176.91 L686.59,176.88 L687.81,176.86 L689.04,176.84 L690.26,176.81 L691.49,176.79 L692.72,176.76 L693.94,176.74 L695.17,176.71 L696.39,176.69 L697.62,176.66 L698.85,176.64 L700.07,176.61 L701.30,176.59 L702.53,176.56 L703.76,176.53 L704.99,176.51 L706.21,176.48 L707.44,176.45 L708.67,176.43 L709.90,176.40" stroke="#000" stroke-width="3.9" stroke-linejoin="round"/>
<path d="M103.90,428.25 L104.11,426.89 L104.32,425.53 L104.53,424.17 L104.75,422.82 L104.96,421.46 L105.17,420.10 L105.38,418.74 L105.60,417.38 M109.05,396.18 L109.28,394.88 L109.50,393.59 L109.73,392.29 L109.96,391.00 L110.19,389.70 L110.42,388.41 L110.66,387.12 M114.65,367.30 L114.94,366.02 L115.23,364.75 L115.53,363.47 L115.83,362.20 L116.14,360.93 L116.45,359.66 L116.77,358.39 M123.12,337.47 L123.59,336.21 L124.07,334.96 L124.56,333.72 L125.06,332.48 L125.57,331.24 L126.10,330.01 L126.63,328.79 L127.19,327.57 L127.75,326.36 M139.78,307.59 L140.77,306.53 L141.78,305.50 L142.82,304.50 L143.89,303.52 L144.98,302.58 L146.10,301.66 L147.25,300.78 L148.41,299.92 L149.60,299.09 L150.80,298.29 L152.03,297.52 M170.90,288.99 L172.25,288.55 L173.61,288.12 L174.97,287.71 L176.33,287.32 L177.70,286.93 L179.07,286.56 L180.45,286.20 L181.83,285.85 L183.21,285.51 M201.02,282.00 L202.43,281.78 L203.83,281.56 L205.24,281.35 L206.65,281.14 L208.05,280.94 L209.46,280.74 L210.87,280.55 L212.28,280.36 L213.69,280.18 M231.09,278.26 L232.51,278.13 L233.92,278.00 L235.34,277.87 L236.76,277.75 L238.17,277.62 L239.59,277.50 L241.01,277.39 L242.43,277.27 L243.84,277.16 M261.15,275.94 L262.57,275.85 L263.99,275.77 L265.40,275.68 L266.82,275.60 L268.24,275.51 L269.66,275.43 L271.08,275.35 L272.50,275.28 L273.92,275.20 M291.20,274.36 L292.62,274.29 L294.04,274.23 L295.46,274.17 L296.88,274.11 L298.30,274.05 L299.72,274.00 L301.14,273.94 L302.57,273.88 L303.99,273.83 M321.25,273.21 L322.67,273.16 L324.09,273.12 L325.51,273.07 L326.93,273.03 L328.36,272.98 L329.78,272.94 L331.20,272.89 L332.62,272.85 L334.04,272.81 M351.30,272.34 L352.72,272.30 L354.14,272.27 L355.56,272.23 L356.99,272.20 L358.41,272.16 L359.83,272.13 L361.25,272.09 L362.67,272.06 L364.10,272.03 M381.35,271.65 L382.77,271.63 L384.19,271.60 L385.62,271.57 L387.04,271.54 L388.46,271.51 L389.88,271.49 L391.30,271.46 L392.73,271.43 L394.15,271.41 M411.40,271.11 L412.82,271.08 L414.24,271.06 L415.67,271.04 L417.09,271.01 L418.51,270.99 L419.93,270.97 L421.35,270.95 L422.78,270.92 L424.20,270.90 M441.45,270.65 L442.87,270.63 L444.29,270.61 L445.72,270.60 L447.14,270.58 L448.56,270.56 L449.98,270.54 L451.40,270.52 L452.83,270.50 L454.25,270.48 M471.50,270.27 L472.92,270.26 L474.34,270.24 L475.77,270.23 L477.19,270.21 L478.61,270.19 L480.03,270.18 L481.45,270.16 L482.88,270.15 L484.30,270.13 M501.55,269.95 L502.97,269.94 L504.39,269.93 L505.82,269.91 L507.24,269.90 L508.66,269.88 L510.08,269.87 L511.50,269.86 L512.93,269.84 L514.35,269.83 M531.60,269.68 L533.02,269.67 L534.44,269.65 L535.87,269.64 L537.29,269.63 L538.71,269.62 L540.13,269.61 L541.56,269.59 L542.98,269.58 L544.40,269.57 M561.65,269.44 L563.07,269.43 L564.49,269.42 L565.92,269.41 L567.34,269.40 L568.76,269.39 L570.18,269.38 L571.61,269.37 L573.03,269.35 L574.45,269.34 M591.70,269.23 L593.12,269.22 L594.54,269.21 L595.97,269.20 L597.39,269.19 L598.81,269.18 L600.23,269.17 L601.66,269.16 L603.08,269.15 L604.50,269.15 M621.75,269.04 L623.17,269.03 L624.59,269.02 L626.02,269.02 L627.44,269.01 L628.86,269.00 L630.28,268.99 L631.71,268.98 L633.13,268.98 L634.55,268.97 M651.80,268.88 L653.22,268.87 L654.64,268.86 L656.07,268.85 L657.49,268.85 L658.91,268.84 L660.33,268.83 L661.76,268.82 L663.18,268.82 L664.60,268.81 M681.85,268.73 L683.27,268.72 L684.69,268.71 L686.12,268.71 L687.54,268.70 L688.96,268.69 L690.38,268.69 L691.81,268.68 L693.23,268.68 L694.65,268.67" stroke="#000" stroke-width="3.9" stroke-linecap="round" stroke-linejoin="round"/>
<path d="M101.85,427.80a2.05,2.05 0 1,0 4.1,0a2.05,2.05 0 1,0 -4.1,0zM106.23,422.93a2.05,2.05 0 1,0 4.1,0a2.05,2.05 0 1,0 -4.1,0zM109.91,417.52a2.05,2.05 0 1,0 4.1,0a2.05,2.05 0 1,0 -4.1,0zM113.12,411.81a2.05,2.05 0 1,0 4.1,0a2.05,2.05 0 1,0 -4.1,0zM116.02,405.93a2.05,2.05 0 1,0 4.1,0a2.05,2.05 0 1,0 -4.1,0zM118.75,399.97a2.05,2.05 0 1,0 4.1,0a2.05,2.05 0 1,0 -4.1,0zM120.83,393.77a2.05,2.05 0 1,0 4.1,0a2.05,2.05 0 1,0 -4.1,0zM122.85,387.54a2.05,2.05 0 1,0 4.1,0a2.05,2.05 0 1,0 -4.1,0zM124.68,381.25a2.05,2.05 0 1,0 4.1,0a2.05,2.05 0 1,0 -4.1,0zM126.22,374.88a2.05,2.05 0 1,0 4.1,0a2.05,2.05 0 1,0 -4.1,0zM127.67,368.49a2.05,2.05 0 1,0 4.1,0a2.05,2.05 0 1,0 -4.1,0zM129.14,362.11a2.05,2.05 0 1,0 4.1,0a2.05,2.05 0 1,0 -4.1,0zM130.35,355.67a2.05,2.05 0 1,0 4.1,0a2.05,2.05 0 1,0 -4.1,0zM131.63,349.24a2.05,2.05 0 1,0 4.1,0a2.05,2.05 0 1,0 -4.1,0zM132.98,342.83a2.05,2.05 0 1,0 4.1,0a2.05,2.05 0 1,0 -4.1,0zM134.18,336.39a2.05,2.05 0 1,0 4.1,0a2.05,2.05 0 1,0 -4.1,0zM135.28,329.93a2.05,2.05 0 1,0 4.1,0a2.05,2.05 0 1,0 -4.1,0zM136.31,323.46a2.05,2.05 0 1,0 4.1,0a2.05,2.05 0 1,0 -4.1,0zM137.45,317.01a2.05,2.05 0 1,0 4.1,0a2.05,2.05 0 1,0 -4.1,0zM138.48,310.54a2.05,2.05 0 1,0 4.1,0a2.05,2.05 0 1,0 -4.1,0zM139.60,304.08a2.05,2.05 0 1,0 4.1,0a2.05,2.05 0 1,0 -4.1,0zM140.64,297.61a2.05,2.05 0 1,0 4.1,0a2.05,2.05 0 1,0 -4.1,0zM141.78,291.16a2.05,2.05 0 1,0 4.1,0a2.05,2.05 0 1,0 -4.1,0zM142.86,284.70a2.05,2.05 0 1,0 4.1,0a2.05,2.05 0 1,0 -4.1,0zM143.91,278.23a2.05,2.05 0 1,0 4.1,0a2.05,2.05 0 1,0 -4.1,0zM144.87,271.75a2.05,2.05 0 1,0 4.1,0a2.05,2.05 0 1,0 -4.1,0zM145.74,265.25a2.05,2.05 0 1,0 4.1,0a2.05,2.05 0 1,0 -4.1,0zM146.66,258.77a2.05,2.05 0 1,0 4.1,0a2.05,2.05 0 1,0 -4.1,0zM147.66,252.29a2.05,2.05 0 1,0 4.1,0a2.05,2.05 0 1,0 -4.1,0zM148.86,245.85a2.05,2.05 0 1,0 4.1,0a2.05,2.05 0 1,0 -4.1,0zM150.26,239.45a2.05,2.05 0 1,0 4.1,0a2.05,2.05 0 1,0 -4.1,0zM151.67,233.05a2.05,2.05 0 1,0 4.1,0a2.05,2.05 0 1,0 -4.1,0zM153.18,226.68a2.05,2.05 0 1,0 4.1,0a2.05,2.05 0 1,0 -4.1,0zM155.05,220.40a2.05,2.05 0 1,0 4.1,0a2.05,2.05 0 1,0 -4.1,0zM157.35,214.27a2.05,2.05 0 1,0 4.1,0a2.05,2.05 0 1,0 -4.1,0zM160.34,208.44a2.05,2.05 0 1,0 4.1,0a2.05,2.05 0 1,0 -4.1,0zM163.66,202.79a2.05,2.05 0 1,0 4.1,0a2.05,2.05 0 1,0 -4.1,0zM167.16,197.26a2.05,2.05 0 1,0 4.1,0a2.05,2.05 0 1,0 -4.1,0zM170.81,191.82a2.05,2.05 0 1,0 4.1,0a2.05,2.05 0 1,0 -4.1,0zM174.96,186.75a2.05,2.05 0 1,0 4.1,0a2.05,2.05 0 1,0 -4.1,0zM179.59,182.12a2.05,2.05 0 1,0 4.1,0a2.05,2.05 0 1,0 -4.1,0zM184.58,177.87a2.05,2.05 0 1,0 4.1,0a2.05,2.05 0 1,0 -4.1,0zM190.12,174.38a2.05,2.05 0 1,0 4.1,0a2.05,2.05 0 1,0 -4.1,0zM195.95,171.40a2.05,2.05 0 1,0 4.1,0a2.05,2.05 0 1,0 -4.1,0zM201.96,168.79a2.05,2.05 0 1,0 4.1,0a2.05,2.05 0 1,0 -4.1,0zM208.10,166.51a2.05,2.05 0 1,0 4.1,0a2.05,2.05 0 1,0 -4.1,0zM214.36,164.57a2.05,2.05 0 1,0 4.1,0a2.05,2.05 0 1,0 -4.1,0zM220.71,162.99a2.05,2.05 0 1,0 4.1,0a2.05,2.05 0 1,0 -4.1,0zM227.17,161.86a2.05,2.05 0 1,0 4.1,0a2.05,2.05 0 1,0 -4.1,0zM233.65,160.88a2.05,2.05 0 1,0 4.1,0a2.05,2.05 0 1,0 -4.1,0zM239.79,159.93a2.05,2.05 0 1,0 4.1,0a2.05,2.05 0 1,0 -4.1,0zM245.92,158.98a2.05,2.05 0 1,0 4.1,0a2.05,2.05 0 1,0 -4.1,0zM252.06,158.09a2.05,2.05 0 1,0 4.1,0a2.05,2.05 0 1,0 -4.1,0zM258.20,157.31a2.05,2.05 0 1,0 4.1,0a2.05,2.05 0 1,0 -4.1,0zM264.34,156.61a2.05,2.05 0 1,0 4.1,0a2.05,2.05 0 1,0 -4.1,0zM270.48,155.98a2.05,2.05 0 1,0 4.1,0a2.05,2.05 0 1,0 -4.1,0zM276.62,155.41a2.05,2.05 0 1,0 4.1,0a2.05,2.05 0 1,0 -4.1,0zM282.76,154.91a2.05,2.05 0 1,0 4.1,0a2.05,2.05 0 1,0 -4.1,0zM288.90,154.46a2.05,2.05 0 1,0 4.1,0a2.05,2.05 0 1,0 -4.1,0zM295.04,154.05a2.05,2.05 0 1,0 4.1,0a2.05,2.05 0 1,0 -4.1,0zM301.18,153.68a2.05,2.05 0 1,0 4.1,0a2.05,2.05 0 1,0 -4.1,0zM307.31,153.33a2.05,2.05 0 1,0 4.1,0a2.05,2.05 0 1,0 -4.1,0zM313.45,153.01a2.05,2.05 0 1,0 4.1,0a2.05,2.05 0 1,0 -4.1,0zM319.59,152.72a2.05,2.05 0 1,0 4.1,0a2.05,2.05 0 1,0 -4.1,0zM325.73,152.43a2.05,2.05 0 1,0 4.1,0a2.05,2.05 0 1,0 -4.1,0zM331.87,152.17a2.05,2.05 0 1,0 4.1,0a2.05,2.05 0 1,0 -4.1,0zM338.01,151.91a2.05,2.05 0 1,0 4.1,0a2.05,2.05 0 1,0 -4.1,0zM344.15,151.68a2.05,2.05 0 1,0 4.1,0a2.05,2.05 0 1,0 -4.1,0zM350.29,151.45a2.05,2.05 0 1,0 4.1,0a2.05,2.05 0 1,0 -4.1,0zM356.43,151.25a2.05,2.05 0 1,0 4.1,0a2.05,2.05 0 1,0 -4.1,0zM362.57,151.06a2.05,2.05 0 1,0 4.1,0a2.05,2.05 0 1,0 -4.1,0zM368.70,150.88a2.05,2.05 0 1,0 4.1,0a2.05,2.05 0 1,0 -4.1,0zM374.84,150.71a2.05,2.05 0 1,0 4.1,0a2.05,2.05 0 1,0 -4.1,0zM380.98,150.55a2.05,2.05 0 1,0 4.1,0a2.05,2.05 0 1,0 -4.1,0zM387.12,150.39a2.05,2.05 0 1,0 4.1,0a2.05,2.05 0 1,0 -4.1,0zM393.26,150.25a2.05,2.05 0 1,0 4.1,0a2.05,2.05 0 1,0 -4.1,0zM399.40,150.12a2.05,2.05 0 1,0 4.1,0a2.05,2.05 0 1,0 -4.1,0zM405.54,149.99a2.05,2.05 0 1,0 4.1,0a2.05,2.05 0 1,0 -4.1,0zM411.68,149.87a2.05,2.05 0 1,0 4.1,0a2.05,2.05 0 1,0 -4.1,0zM417.82,149.75a2.05,2.05 0 1,0 4.1,0a2.05,2.05 0 1,0 -4.1,0zM423.96,149.63a2.05,2.05 0 1,0 4.1,0a2.05,2.05 0 1,0 -4.1,0zM430.10,149.52a2.05,2.05 0 1,0 4.1,0a2.05,2.05 0 1,0 -4.1,0zM436.23,149.41a2.05,2.05 0 1,0 4.1,0a2.05,2.05 0 1,0 -4.1,0zM442.37,149.30a2.05,2.05 0 1,0 4.1,0a2.05,2.05 0 1,0 -4.1,0zM448.51,149.20a2.05,2.05 0 1,0 4.1,0a2.05,2.05 0 1,0 -4.1,0zM454.65,149.11a2.05,2.05 0 1,0 4.1,0a2.05,2.05 0 1,0 -4.1,0zM460.79,149.02a2.05,2.05 0 1,0 4.1,0a2.05,2.05 0 1,0 -4.1,0zM466.93,148.94a2.05,2.05 0 1,0 4.1,0a2.05,2.05 0 1,0 -4.1,0zM473.07,148.86a2.05,2.05 0 1,0 4.1,0a2.05,2.05 0 1,0 -4.1,0zM479.21,148.79a2.05,2.05 0 1,0 4.1,0a2.05,2.05 0 1,0 -4.1,0zM485.35,148.72a2.05,2.05 0 1,0 4.1,0a2.05,2.05 0 1,0 -4.1,0zM491.48,148.65a2.05,2.05 0 1,0 4.1,0a2.05,2.05 0 1,0 -4.1,0zM497.62,148.59a2.05,2.05 0 1,0 4.1,0a2.05,2.05 0 1,0 -4.1,0zM503.76,148.54a2.05,2.05 0 1,0 4.1,0a2.05,2.05 0 1,0 -4.1,0zM509.90,148.48a2.05,2.05 0 1,0 4.1,0a2.05,2.05 0 1,0 -4.1,0zM516.04,148.43a2.05,2.05 0 1,0 4.1,0a2.05,2.05 0 1,0 -4.1,0zM522.18,148.38a2.05,2.05 0 1,0 4.1,0a2.05,2.05 0 1,0 -4.1,0zM528.32,148.33a2.05,2.05 0 1,0 4.1,0a2.05,2.05 0 1,0 -4.1,0zM534.46,148.28a2.05,2.05 0 1,0 4.1,0a2.05,2.05 0 1,0 -4.1,0zM540.60,148.24a2.05,2.05 0 1,0 4.1,0a2.05,2.05 0 1,0 -4.1,0zM546.74,148.19a2.05,2.05 0 1,0 4.1,0a2.05,2.05 0 1,0 -4.1,0zM552.88,148.14a2.05,2.05 0 1,0 4.1,0a2.05,2.05 0 1,0 -4.1,0zM559.01,148.09a2.05,2.05 0 1,0 4.1,0a2.05,2.05 0 1,0 -4.1,0zM565.15,148.04a2.05,2.05 0 1,0 4.1,0a2.05,2.05 0 1,0 -4.1,0zM571.29,147.99a2.05,2.05 0 1,0 4.1,0a2.05,2.05 0 1,0 -4.1,0zM577.43,147.95a2.05,2.05 0 1,0 4.1,0a2.05,2.05 0 1,0 -4.1,0zM583.57,147.90a2.05,2.05 0 1,0 4.1,0a2.05,2.05 0 1,0 -4.1,0zM589.71,147.85a2.05,2.05 0 1,0 4.1,0a2.05,2.05 0 1,0 -4.1,0zM595.85,147.81a2.05,2.05 0 1,0 4.1,0a2.05,2.05 0 1,0 -4.1,0zM601.99,147.76a2.05,2.05 0 1,0 4.1,0a2.05,2.05 0 1,0 -4.1,0zM608.13,147.72a2.05,2.05 0 1,0 4.1,0a2.05,2.05 0 1,0 -4.1,0zM614.26,147.67a2.05,2.05 0 1,0 4.1,0a2.05,2.05 0 1,0 -4.1,0zM620.40,147.63a2.05,2.05 0 1,0 4.1,0a2.05,2.05 0 1,0 -4.1,0zM626.54,147.58a2.05,2.05 0 1,0 4.1,0a2.05,2.05 0 1,0 -4.1,0zM632.68,147.54a2.05,2.05 0 1,0 4.1,0a2.05,2.05 0 1,0 -4.1,0zM638.82,147.49a2.05,2.05 0 1,0 4.1,0a2.05,2.05 0 1,0 -4.1,0zM644.96,147.45a2.05,2.05 0 1,0 4.1,0a2.05,2.05 0 1,0 -4.1,0zM651.10,147.40a2.05,2.05 0 1,0 4.1,0a2.05,2.05 0 1,0 -4.1,0zM657.24,147.36a2.05,2.05 0 1,0 4.1,0a2.05,2.05 0 1,0 -4.1,0zM663.38,147.32a2.05,2.05 0 1,0 4.1,0a2.05,2.05 0 1,0 -4.1,0zM669.52,147.27a2.05,2.05 0 1,0 4.1,0a2.05,2.05 0 1,0 -4.1,0zM675.65,147.23a2.05,2.05 0 1,0 4.1,0a2.05,2.05 0 1,0 -4.1,0zM681.79,147.18a2.05,2.05 0 1,0 4.1,0a2.05,2.05 0 1,0 -4.1,0zM687.93,147.14a2.05,2.05 0 1,0 4.1,0a2.05,2.05 0 1,0 -4.1,0zM694.07,147.10a2.05,2.05 0 1,0 4.1,0a2.05,2.05 0 1,0 -4.1,0zM700.21,147.05a2.05,2.05 0 1,0 4.1,0a2.05,2.05 0 1,0 -4.1,0zM706.35,147.01a2.05,2.05 0 1,0 4.1,0a2.05,2.05 0 1,0 -4.1,0z" stroke="#ff0000" stroke-width="0.01" fill="#ff0000"/>
</g>
<path d="M407,429.7 V38.9" stroke="#000" stroke-width="2.0" stroke-dasharray="7.95 7.3" fill="none"/>
<g stroke="#000" stroke-width="1.7" fill="none" stroke-linecap="butt">
<rect x="103.9" y="38.9" width="606.0" height="389.35"/>
<path d="M103.90,428.25 v-7.4 M103.90,38.9 v7.4 M134.20,428.25 v-3.9 M134.20,38.9 v3.9 M164.50,428.25 v-7.4 M164.50,38.9 v7.4 M194.80,428.25 v-3.9 M194.80,38.9 v3.9 M225.10,428.25 v-7.4 M225.10,38.9 v7.4 M255.40,428.25 v-3.9 M255.40,38.9 v3.9 M285.70,428.25 v-7.4 M285.70,38.9 v7.4 M316.00,428.25 v-3.9 M316.00,38.9 v3.9 M346.30,428.25 v-7.4 M346.30,38.9 v7.4 M376.60,428.25 v-3.9 M376.60,38.9 v3.9 M406.90,428.25 v-7.4 M406.90,38.9 v7.4 M437.20,428.25 v-3.9 M437.20,38.9 v3.9 M467.50,428.25 v-7.4 M467.50,38.9 v7.4 M497.80,428.25 v-3.9 M497.80,38.9 v3.9 M528.10,428.25 v-7.4 M528.10,38.9 v7.4 M558.40,428.25 v-3.9 M558.40,38.9 v3.9 M588.70,428.25 v-7.4 M588.70,38.9 v7.4 M619.00,428.25 v-3.9 M619.00,38.9 v3.9 M649.30,428.25 v-7.4 M649.30,38.9 v7.4 M679.60,428.25 v-3.9 M679.60,38.9 v3.9 M709.90,428.25 v-7.4 M709.90,38.9 v7.4 M103.9,428.25 h7.4 M709.9,428.25 h-7.4 M103.9,395.80 h3.9 M709.9,395.80 h-3.9 M103.9,363.36 h7.4 M709.9,363.36 h-7.4 M103.9,330.91 h3.9 M709.9,330.91 h-3.9 M103.9,298.47 h7.4 M709.9,298.47 h-7.4 M103.9,266.02 h3.9 M709.9,266.02 h-3.9 M103.9,233.57 h7.4 M709.9,233.57 h-7.4 M103.9,201.13 h3.9 M709.9,201.13 h-3.9 M103.9,168.68 h7.4 M709.9,168.68 h-7.4 M103.9,136.24 h3.9 M709.9,136.24 h-3.9 M103.9,103.79 h7.4 M709.9,103.79 h-7.4 M103.9,71.35 h3.9 M709.9,71.35 h-3.9 M103.9,38.90 h7.4 M709.9,38.90 h-7.4" stroke-width="1.6"/>
</g>
<g font-family="'Liberation Serif', serif" font-size="25.2px" fill="#000">
<text x="104.60" y="452.8" text-anchor="middle">0</text>
<text x="165.20" y="452.8" text-anchor="middle">2</text>
<text x="225.80" y="452.8" text-anchor="middle">4</text>
<text x="286.40" y="452.8" text-anchor="middle">6</text>
<text x="347.00" y="452.8" text-anchor="middle">8</text>
<text x="407.60" y="452.8" text-anchor="middle">10</text>
<text x="468.20" y="452.8" text-anchor="middle">12</text>
<text x="528.80" y="452.8" text-anchor="middle">14</text>
<text x="589.40" y="452.8" text-anchor="middle">16</text>
<text x="650.00" y="452.8" text-anchor="middle">18</text>
<text x="710.60" y="452.8" text-anchor="middle">20</text>
<text x="96.6" y="435.05" text-anchor="end" letter-spacing="-0.5">0.0</text>
<text x="96.6" y="370.16" text-anchor="end" letter-spacing="-0.5">0.1</text>
<text x="96.6" y="305.27" text-anchor="end" letter-spacing="-0.5">0.2</text>
<text x="96.6" y="240.37" text-anchor="end" letter-spacing="-0.5">0.3</text>
<text x="96.6" y="175.48" text-anchor="end" letter-spacing="-0.5">0.4</text>
<text x="96.6" y="110.59" text-anchor="end" letter-spacing="-0.5">0.5</text>
<text x="96.6" y="45.70" text-anchor="end" letter-spacing="-0.5">0.6</text>
<text x="717.2" y="41.2">1</text>
<text x="717.2" y="238.7">0.5</text>
<text x="717.2" y="433.3">0</text>
</g>
<g fill="none">
<path d="M448.7,300.2 H512.9" stroke="#000" stroke-width="3.9"/>
<path d="M450.65,333.5 H510.9" stroke="#000" stroke-width="3.9" stroke-dasharray="12.7 17.1" stroke-linecap="round"/>
<path d="M450.3,366.8 H506.0" stroke="#ff0000" stroke-width="4.0" stroke-dasharray="0.01 6.16" stroke-linecap="round"/>
<path d="M450.1,400.9 H509.4" stroke="#1e94fb" stroke-width="3.9" stroke-dasharray="10.9 2.2 3.5 2.24"/>
</g>
<g font-family="'Liberation Serif', serif" font-size="25.6px" fill="#000">
<text x="519.4" y="306.1" font-size="27.2px" font-style="italic">U</text>
<path d="M548.9,297.0 h16.8 M548.9,301.6 h16.8" stroke="#000" stroke-width="1.25" fill="none"/>
<text x="575 587.8 601.3 609.4 627.6 637.0 657.9" y="306.1">10(HIA)</text>
<text x="519.4" y="339.5" font-size="27.2px" font-style="italic">U</text>
<path d="M548.9,330.4 h16.8 M548.9,335.0 h16.8" stroke="#000" stroke-width="1.25" fill="none"/>
<text x="574.0" y="339.5">0</text>
<text x="519.4" y="372.5" font-size="27.2px" font-style="italic">U</text>
<path d="M548.9,363.4 h16.8 M548.9,368.0 h16.8" stroke="#000" stroke-width="1.25" fill="none"/>
<text x="573.4 585.8 599.3 607.8 625.7 644.5" y="372.5">10(HF)</text>
<text x="519.4" y="406.6" font-size="27.2px" font-style="italic">U</text>
<path d="M548.9,397.5 h16.8 M548.9,402.1 h16.8" stroke="#000" stroke-width="1.25" fill="none"/>
<text x="575 587.8 601.6 609.6 627.6 644.7 661.9" y="406.6">10(NCA)</text>
</g>
<g font-family="'Liberation Serif', serif" fill="#000">
<text x="359.2" y="27.9" font-size="34px" font-style="italic">ε</text>
<text x="374.4" y="33.5" font-size="24px">0</text>
<path d="M397.8,20.2 h21.5 M408.55,9.4 v21.7" stroke="#000" stroke-width="1.5" fill="none"/>
<text x="427.4" y="28.5" font-size="34px" font-style="italic">U</text>
</g>
<g font-family="'Liberation Serif', serif" fill="#000">
<text x="345" y="490.3" font-size="41.5px" font-style="italic">V</text>
<path d="M387.6,461.8 H382.1 V498.7 H387.6" stroke="#000" stroke-width="1.5" fill="none"/>
<text x="387.8" y="490.3" font-size="41.5px">Γ</text>
<path d="M430.6,461.2 L414.8,499.3" stroke="#000" stroke-width="1.5" fill="none"/>
<text x="431.8" y="490.3" font-size="41.5px" font-style="italic">e</text>
<path d="M450.5,461.8 H456.0 V498.7 H450.5" stroke="#000" stroke-width="1.5" fill="none"/>
</g>
<g transform="translate(56,0) rotate(-90)" font-family="'Liberation Serif', serif" fill="#000">
<text transform="translate(-295.3,0) scale(1.13,1)" x="0" y="0" font-size="41.5px" font-style="italic">J</text>
<path d="M-260.9,-29.6 H-266.6 V8.3 H-260.9" stroke="#000" stroke-width="1.5" fill="none"/>
<text x="-260.8" y="0" font-size="41.5px" font-style="italic">e</text>
<text x="-241.4" y="0" font-size="41.5px">Γ</text>
<path d="M-201.2,-29.9 L-215.6,8.6" stroke="#000" stroke-width="1.5" fill="none"/>
<text transform="translate(-198.6,0) scale(1.1,1)" x="0" y="0" font-size="40.5px" font-style="italic">ħ</text>
<path d="M-176.6,-29.6 H-171.0 V8.3 H-176.6" stroke="#000" stroke-width="1.5" fill="none"/>
</g>
<g transform="translate(748.6,0) rotate(90)" font-family="'Liberation Serif', serif" fill="#000">
<text x="75.6" y="0" font-size="41.5px" font-style="italic">G</text>
<path d="M115.6,-29.9 H110.0 V8.0 H115.6" stroke="#000" stroke-width="1.5" fill="none"/>
<text x="116.0" y="0" font-size="39.5px">2</text>
<path d="M140,-11.2 H173.6" stroke="#000" stroke-width="1.6" fill="none"/>
<text x="139.6" y="-26.2" font-size="41.5px" font-style="italic">e</text>
<text x="157.8" y="-39.9" font-size="28px">2</text>
<text x="147.4" y="25.2" font-size="38.5px" font-style="italic">h</text>
<path d="M179.6,-29.9 H185.2 V8.0 H179.6" stroke="#000" stroke-width="1.5" fill="none"/>
</g>
</svg>
</body></html>
